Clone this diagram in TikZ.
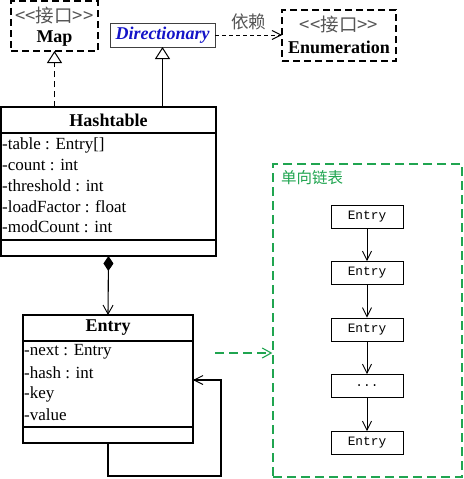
\documentclass[tikz,border=0pt]{standalone}
\usepackage{fontspec}
\setmainfont{Liberation Serif}
\setmonofont{Liberation Mono}
\newfontfamily\cjk{Noto Sans CJK SC}
\usetikzlibrary{arrows.meta}
\definecolor{umlgreen}{RGB}{32,165,80}
\definecolor{umlgray}{RGB}{85,85,85}
\definecolor{umlblue}{RGB}{20,20,200}
\tikzset{
  box/.style={draw, line width=1.3pt, inner sep=0pt, outer sep=0pt},
  ibox/.style={draw, line width=1.4pt, dash pattern=on 7pt off 4pt, inner sep=0pt, outer sep=0pt},
  ttl/.style={font=\fontsize{18}{20}\selectfont\bfseries, inner sep=0pt},
  stereo/.style={font=\fontsize{18.5}{20}\selectfont\cjk\mdseries, text=umlgray, inner sep=0pt},
  attr/.style={font=\fontsize{17}{19}\selectfont, anchor=west, inner sep=0pt},
  small/.style={draw, line width=0.9pt, minimum width=72pt, minimum height=23pt, inner sep=0pt, font=\fontsize{12.8}{14}\ttfamily},
  conn/.style={line width=1.1pt},
  vtip/.style={-{Straight Barb[length=9pt,width=9pt,line width=0.9pt]}},
  tri/.style={-{Triangle[open,length=12pt,width=15pt,line width=1pt]}},
}
\begin{document}
\begin{tikzpicture}[x=1pt,y=-1pt]
\useasboundingbox (0,0) rectangle (463,479);
\fill[white] (0,0) rectangle (463,479);

% Map interface
\node[ibox, minimum width=87pt, minimum height=50pt] (map) at (54.5,26) {};
\node[stereo] (mapst) at (54.5,15) {<<接口>>};
\node[ttl] (mapname) at (54.5,39) {Map};

% Directionary
\node[box, line width=1pt, minimum width=105pt, minimum height=24pt, draw=black!75] (dir) at (162.5,35) {};
\node[ttl, font=\fontsize{18}{20}\selectfont\bfseries\itshape, text=umlblue] (dirname) at (162.5,35) {Directionary};

% Enumeration interface
\node[ibox, minimum width=114pt, minimum height=51pt] (enum) at (339,35.5) {};
\node[stereo] (enumst) at (339,24) {<<接口>>};
\node[ttl] (enumname) at (339,47.5) {Enumeration};

% Hashtable
\node[box, minimum width=215pt, minimum height=26pt] (htt) at (108.5,120) {};
\node[ttl] (httname) at (108.5,120) {Hashtable};
\node[box, minimum width=215pt, minimum height=107pt] (hta) at (108.5,186.5) {};
\node[box, minimum width=215pt, minimum height=16pt] (htm) at (108.5,248) {};
\node[attr] (a1) at (2,145) {-table : Entry[]};
\node[attr] (a2) at (2,165) {-count : int};
\node[attr] (a3) at (2,186) {-threshold : int};
\node[attr] (a4) at (2,207) {-loadFactor : float};
\node[attr] (a5) at (2,227) {-modCount : int};

% Entry
\node[box, minimum width=170pt, minimum height=26pt] (ent) at (108,328) {};
\node[ttl] (entname) at (108,328) {Entry};
\node[box, minimum width=170pt, minimum height=86pt] (ena) at (108,384) {};
\node[box, minimum width=170pt, minimum height=16pt] (enm) at (108,435) {};
\node[attr] (e1) at (24,352) {-next : Entry};
\node[attr] (e2) at (24,373) {-hash : int};
\node[attr] (e3) at (24,394) {-key};
\node[attr] (e4) at (24,415) {-value};

% group
\node[draw=umlgreen, line width=1.3pt, dash pattern=on 9pt off 5pt, minimum width=189pt, minimum height=313pt, inner sep=0pt] (grp) at (367.5,320.5) {};
\node[font=\fontsize{15.5}{17}\selectfont\cjk, text=umlgreen, inner sep=0pt, anchor=west] (grpname) at (281,178) {单向链表};

\node[small] (s1) at (367,216.5) {Entry};
\node[small] (s2) at (367,273) {Entry};
\node[small] (s3) at (367,329.5) {Entry};
\node[small] (s4) at (367,386) {...};
\node[small] (s5) at (367,443) {Entry};

% connectors
\draw[conn, dashed, dash pattern=on 6pt off 4pt, tri] (map.south |- htt.north) -- (map.south);
\draw[conn, tri] (dir.south |- htt.north) -- (dir.south);
\draw[conn, line width=0.9pt, dash pattern=on 4pt off 3pt, vtip] (dir.east) -- (enum.west |- dir.east)
  node[midway, above=5pt, font=\fontsize{17.5}{19}\selectfont\cjk, text=umlgray, inner sep=0pt] (dep) {依赖};
\draw[conn, {Diamond[length=15pt,width=10pt]}-{Straight Barb[length=9pt,width=10pt,line width=0.9pt]}] (htm.south) -- (ent.north);
\coordinate (l1) at (108,476);
\coordinate (l2) at (221,476);
\coordinate (l3) at (221,380);
\draw[conn, vtip] (enm.south) -- (l1) -- (l2) -- (l3) -- (l3 -| ent.east);
\draw[conn, draw=umlgreen, line width=1.3pt, dash pattern=on 9pt off 5pt, -{Straight Barb[length=9pt,width=10pt,line width=1.1pt]}] (215,353) -- (grp.west |- 0,353);
\draw[line width=0.9pt, vtip] (s1) -- (s2);
\draw[line width=0.9pt, vtip] (s2) -- (s3);
\draw[line width=0.9pt, vtip] (s3) -- (s4);
\draw[line width=0.9pt, vtip] (s4) -- (s5);
\end{tikzpicture}
\end{document}
